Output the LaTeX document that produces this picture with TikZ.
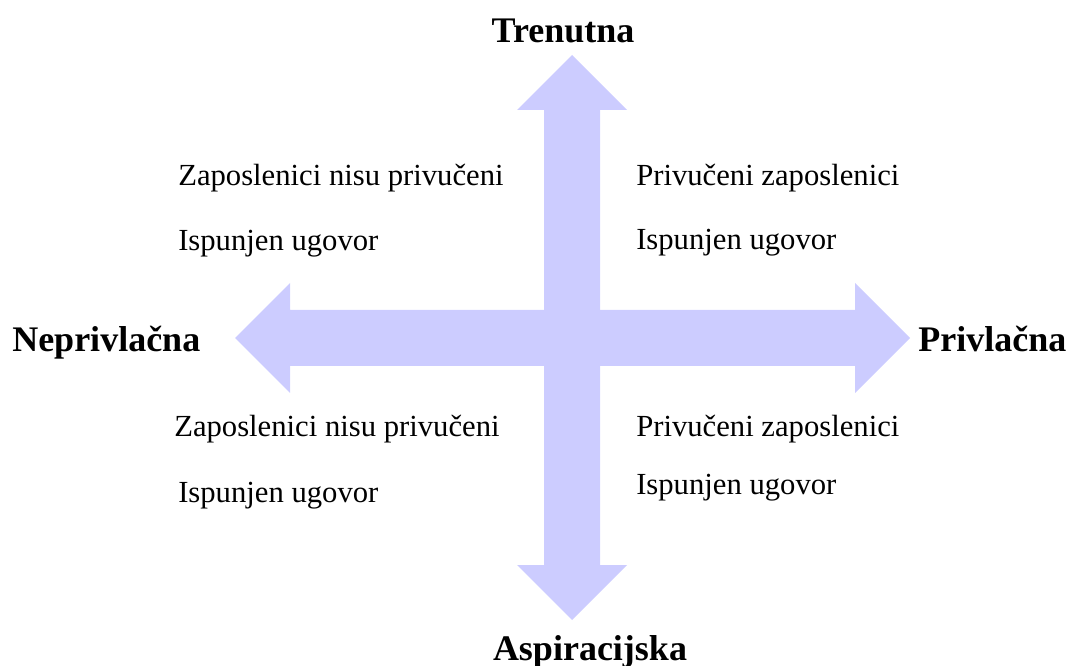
\documentclass[tikz,border=0pt]{standalone}
\usepackage{fontspec}
\setmainfont{Liberation Serif}
\usetikzlibrary{positioning}
\definecolor{arrowblue}{RGB}{204,204,255}
\tikzset{
  axislabel/.style={font=\fontsize{27}{30}\selectfont\bfseries, inner sep=0pt},
  quadtext/.style={font=\fontsize{23}{28}\selectfont, inner sep=0pt, anchor=base west},
}

\begin{document}
\begin{tikzpicture}[x=0.75pt,y=-0.75pt]
\useasboundingbox (0,0) rectangle (1068,666);

% Vertical double arrow
\fill[arrowblue] (572,55) -- (627,110) -- (600,110) -- (600,565) -- (627,565)
  -- (572,620) -- (517,565) -- (544,565) -- (544,110) -- (517,110) -- cycle;
% Horizontal double arrow
\fill[arrowblue] (235,338) -- (290,283) -- (290,310) -- (855,310) -- (855,283)
  -- (910,338) -- (855,393) -- (855,366) -- (290,366) -- (290,393) -- cycle;

% Axis labels
\node[axislabel, anchor=base] (top) at (563,43) {Trenutna};
\node[axislabel, anchor=base] (bottom) at (590,660) {Aspiracijska};
\node[axislabel, anchor=base west] (left) at (12,352) {Neprivlačna};
\node[axislabel, anchor=base west] (right) at (918,352) {Privlačna};

% Quadrant texts
\node[quadtext] (ul1) at (178,186) {Zaposlenici nisu privučeni};
\node[quadtext] (ul2) at (178,251) {Ispunjen ugovor};
\node[quadtext] (ur1) at (636,186) {Privučeni zaposlenici};
\node[quadtext] (ur2) at (636,250) {Ispunjen ugovor};
\node[quadtext] (ll1) at (174,437) {Zaposlenici nisu privučeni};
\node[quadtext] (ll2) at (178,503) {Ispunjen ugovor};
\node[quadtext] (lr1) at (636,437) {Privučeni zaposlenici};
\node[quadtext] (lr2) at (636,495) {Ispunjen ugovor};

\end{tikzpicture}
\end{document}
